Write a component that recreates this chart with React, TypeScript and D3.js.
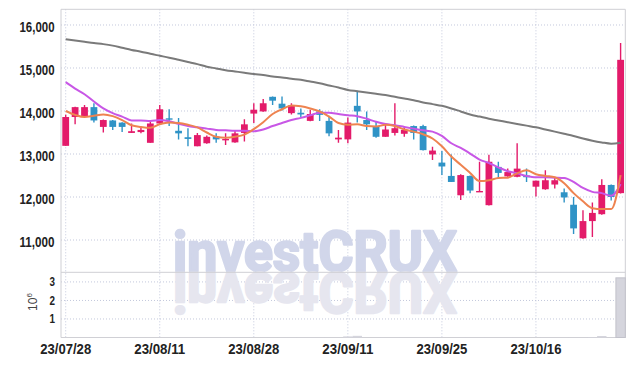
import React from "react";
import * as d3 from "d3";

// trading days shown on the chart
const dates = [
  "23/07/28", "23/07/31", "23/08/01", "23/08/02", "23/08/03", "23/08/04", "23/08/07", "23/08/08", "23/08/09", "23/08/10",
  "23/08/11", "23/08/14", "23/08/16", "23/08/17", "23/08/18", "23/08/21", "23/08/22", "23/08/23", "23/08/24", "23/08/25",
  "23/08/28", "23/08/29", "23/08/30", "23/08/31", "23/09/01", "23/09/04", "23/09/05", "23/09/06", "23/09/07", "23/09/08",
  "23/09/11", "23/09/12", "23/09/13", "23/09/14", "23/09/15", "23/09/18", "23/09/19", "23/09/20", "23/09/21", "23/09/22",
  "23/09/25", "23/09/26", "23/09/27", "23/10/04", "23/10/05", "23/10/06", "23/10/10", "23/10/11", "23/10/12", "23/10/13",
  "23/10/16", "23/10/17", "23/10/18", "23/10/19", "23/10/20", "23/10/23", "23/10/24", "23/10/25", "23/10/26", "23/10/27",
];

const opens = [
  13190, 13860, 13870, 14090, 13630, 13780, 13730, 13490, 13510, 13260,
  13710, 13830, 13540, 13390, 13180, 13250, 13400, 13340, 13270, 13490,
  13940, 13990, 14330, 14170, 13950, 13960, 13770, 13990, 13770, 13340,
  13340, 14120, 13790, 13650, 13400, 13490, 13470, 13650, 13650, 12990,
  12800, 12490, 12040, 12490, 12130, 11810, 12700, 12480, 12470, 12500,
  12240, 12180, 12290, 12110, 11820, 11040, 11440, 11600, 12280, 12090,
];
const highs = [
  13910, 14100, 14140, 14180, 13800, 13790, 13740, 13710, 13610, 13770,
  14140, 14040, 13840, 13600, 13490, 13430, 13480, 13480, 13560, 13810,
  14180, 14280, 14340, 14340, 14180, 14060, 14030, 14040, 13890, 13560,
  13850, 14470, 13990, 13760, 13720, 14180, 13640, 13660, 13680, 13170,
  13070, 12990, 12530, 12500, 12820, 12980, 12820, 12660, 13250, 12660,
  12380, 12620, 12460, 12200, 12000, 11690, 11870, 12410, 12290, 15580,
];
const lows = [
  13190, 13690, 13860, 13730, 13500, 13560, 13510, 13490, 13480, 13260,
  13690, 13650, 13340, 13180, 13180, 13240, 13260, 13210, 13260, 13290,
  13720, 13980, 14140, 14010, 13920, 13860, 13760, 13770, 13410, 13260,
  13250, 13730, 13560, 13380, 13400, 13430, 13400, 13340, 13080, 12860,
  12510, 12350, 11930, 12090, 12120, 11800, 12450, 12470, 12460, 12350,
  12010, 12170, 12200, 11870, 11140, 11030, 11070, 11590, 11920, 12080,
];
const closes = [
  13860, 14090, 14090, 13780, 13790, 13630, 13630, 13530, 13560, 13710,
  14040, 13820, 13480, 13350, 13440, 13400, 13340, 13350, 13480, 13690,
  14030, 14180, 14240, 14060, 14130, 13920, 13930, 13910, 13480, 13380,
  13730, 13990, 13690, 13400, 13570, 13600, 13560, 13490, 13090, 13080,
  12710, 12350, 12510, 12150, 12140, 12820, 12560, 12580, 12660, 12460,
  12380, 12390, 12390, 11990, 11270, 11440, 11630, 12280, 12000, 15190,
];
// volume in millions of shares
const volumes = [
  0.01, 0.01, 0.01, 0.01, 0.01, 0.01, 0.01, 0.01, 0.01, 0.01,
  0.01, 0.01, 0.01, 0.01, 0.01, 0.01, 0.01, 0.01, 0.01, 0.01,
  0.01, 0.01, 0.01, 0.01, 0.01, 0.01, 0.01, 0.01, 0.01, 0.01,
  0.06, 0.09, 0.01, 0.01, 0.01, 0.01, 0.01, 0.01, 0.01, 0.01,
  0.01, 0.01, 0.01, 0.01, 0.01, 0.01, 0.01, 0.01, 0.01, 0.01,
  0.01, 0.01, 0.01, 0.01, 0.01, 0.01, 0.02, 0.08, 0.01, 3.22,
];

const ma5 = [
  14000, 13910, 13860, 13890, 13920, 13880, 13790, 13670, 13630, 13610,
  13690, 13730, 13720, 13680, 13620, 13500, 13400, 13380, 13400, 13450,
  13580, 13740, 13930, 14040, 14130, 14110, 14060, 13990, 13870, 13720,
  13680, 13690, 13650, 13640, 13680, 13650, 13570, 13520, 13460, 13360,
  13180, 12940, 12750, 12560, 12370, 12390, 12440, 12450, 12550, 12620,
  12530, 12490, 12460, 12320, 12090, 11900, 11740, 11720, 11720, 12510,
];
const ma10 = [
  14670, 14520, 14390, 14220, 14060, 13950, 13870, 13780, 13780, 13770,
  13790, 13760, 13700, 13650, 13620, 13590, 13560, 13550, 13540, 13540,
  13530, 13570, 13650, 13720, 13790, 13840, 13900, 13960, 13960, 13930,
  13900, 13880, 13820, 13750, 13700, 13670, 13630, 13590, 13550, 13520,
  13420, 13250, 13140, 13010, 12870, 12790, 12690, 12600, 12550, 12490,
  12460, 12460, 12450, 12440, 12350, 12210, 12120, 12090, 12030, 12300,
];
const ma60 = [
  15670, 15640, 15610, 15580, 15555, 15520, 15470, 15420, 15380, 15330,
  15285, 15240, 15190, 15140, 15090, 15030, 14990, 14950, 14920, 14890,
  14860, 14835, 14805, 14780, 14750, 14725, 14685, 14645, 14595, 14545,
  14490, 14460, 14430, 14400, 14370, 14330, 14290, 14250, 14200, 14160,
  14120, 14060, 13990, 13920, 13870, 13820, 13780, 13740, 13700, 13660,
  13620, 13570, 13520, 13470, 13420, 13360, 13310, 13270, 13240, 13260,
];

const priceTicks = [11000, 12000, 13000, 14000, 15000, 16000];
const volumeTicks = [1, 2, 3];
const dateTicks = ["23/07/28", "23/08/11", "23/08/28", "23/09/11", "23/09/25", "23/10/16"];

const UP = "#e31b6a";
const DOWN = "#2f93c6";
const GRID = "#c3c8dc";
const FRAME = "#cfcfd4";
const FONT = "'Liberation Sans', Arial, sans-serif";

export default function App() {
  const width = 634;
  const height = 366;
  const left = 61;
  const right = 625.3;
  const top = 9.3;
  const split = 272.3;
  const bottom = 337.5;

  const x = d3.scaleBand<string>().domain(dates).range([left, right]);
  const bw = x.bandwidth();
  const cx = (i: number) => (x(dates[i]) as number) + bw / 2;
  const y = d3.scaleLinear().domain([10249, 16365]).range([split, top]);
  const yv = d3.scaleLinear().domain([0, 3.52]).range([bottom, split]);

  const line = d3
    .line<number>()
    .x((_, i) => cx(i))
    .y((d) => y(d))
    .curve(d3.curveMonotoneX);

  const bodyW = 6.8;

  return (
    <div style={{ position: "fixed", left: 0, top: 0 }}>
      <svg width={width} height={height} style={{ display: "block", background: "#fff" }}>
        <defs>
          <clipPath id="mainClip">
            <rect x={left} y={top} width={right - left} height={split - top} />
          </clipPath>
        </defs>

        {/* grid */}
        {priceTicks.map((t) => (
          <line key={"pg" + t} x1={left} x2={right} y1={y(t)} y2={y(t)}
            stroke={GRID} strokeWidth={1} strokeDasharray="1 2" />
        ))}
        {volumeTicks.map((t) => (
          <line key={"vg" + t} x1={left} x2={right} y1={yv(t)} y2={yv(t)}
            stroke={GRID} strokeWidth={1} strokeDasharray="1 2" />
        ))}
        {dateTicks.map((d) => (
          <line key={"dg" + d} x1={cx(dates.indexOf(d))} x2={cx(dates.indexOf(d))} y1={top} y2={bottom}
            stroke={GRID} strokeWidth={1} strokeDasharray="1 2" />
        ))}

        {/* watermark and its reflection */}
        <text x={173} y={split - 1} fontFamily="Roboto, sans-serif" fontWeight={700} fontSize={55}
          fill="#d1d6ea" stroke="#d1d6ea" strokeWidth={2.4} strokeLinejoin="round"
          textLength={284} lengthAdjust="spacingAndGlyphs">investCRUX</text>
        <g transform={`translate(0, ${2 * split}) scale(1, -1)`}>
          <text x={173} y={split - 1} fontFamily="Roboto, sans-serif" fontWeight={700} fontSize={55}
            fill="#e6e6ef" stroke="#e6e6ef" strokeWidth={2.4} strokeLinejoin="round"
            textLength={284} lengthAdjust="spacingAndGlyphs">investCRUX</text>
        </g>

        {/* frame */}
        <line x1={left} x2={right} y1={top} y2={top} stroke={FRAME} />
        <line x1={right} x2={right} y1={top} y2={bottom} stroke={FRAME} />
        <line x1={left} x2={right} y1={split} y2={split} stroke={FRAME} />
        <line x1={left} x2={right} y1={bottom} y2={bottom} stroke={FRAME} />
        <line x1={left} x2={left} y1={top} y2={bottom} stroke={FRAME} />

        {/* volume */}
        {volumes.map((v, i) => (
          <rect key={"v" + i} x={x(dates[i])} width={bw} y={yv(v)} height={bottom - yv(v)}
            fill="#d5d5dd" stroke={v > 1 ? "#c2c2cb" : "none"} strokeWidth={1} />
        ))}

        {/* candles */}
        <g clipPath="url(#mainClip)">
          {dates.map((d, i) => {
            const o = opens[i];
            const c = closes[i];
            const col = c >= o ? UP : DOWN;
            const yTop = y(Math.max(o, c));
            const h = Math.max(1.4, Math.abs(y(o) - y(c)));
            return (
              <g key={d}>
                <line x1={cx(i)} x2={cx(i)} y1={y(highs[i])} y2={y(lows[i])} stroke={col} strokeWidth={1.4} />
                <rect x={cx(i) - bodyW / 2} width={bodyW} y={yTop} height={h} fill={col} />
              </g>
            );
          })}

          {/* moving averages */}
          <path d={line(ma60) || ""} fill="none" stroke="#7a7a7a" strokeWidth={2} />
          <path d={line(ma10) || ""} fill="none" stroke="#c857e6" strokeWidth={2} />
          <path d={line(ma5) || ""} fill="none" stroke="#ee8350" strokeWidth={2} />
        </g>

        {/* axis labels */}
        {priceTicks.map((t) => (
          <text key={"pt" + t} x={54.5} y={y(t) + 7} textAnchor="end" fontFamily={FONT}
            fontWeight={700} fontSize={14} fill="#222" textLength={35}
            lengthAdjust="spacingAndGlyphs">{d3.format(",")(t)}</text>
        ))}
        {volumeTicks.map((t) => (
          <text key={"vt" + t} x={55} y={yv(t) + 4.5} textAnchor="end" fontFamily={FONT}
            fontWeight={700} fontSize={12} fill="#222" textLength={5.5}
            lengthAdjust="spacingAndGlyphs">{t}</text>
        ))}
        <text transform="translate(36.5, 302) rotate(-90)" textAnchor="middle" fontFamily={FONT}
          fontSize={12} fill="#444">
          10<tspan dy={-5} fontSize={8}>6</tspan>
        </text>
        {dateTicks.map((d) => (
          <text key={"dt" + d} x={cx(dates.indexOf(d))} y={354} textAnchor="middle" fontFamily={FONT}
            fontWeight={700} fontSize={15} fill="#222" textLength={51}
            lengthAdjust="spacingAndGlyphs">{d}</text>
        ))}
      </svg>
    </div>
  );
}
